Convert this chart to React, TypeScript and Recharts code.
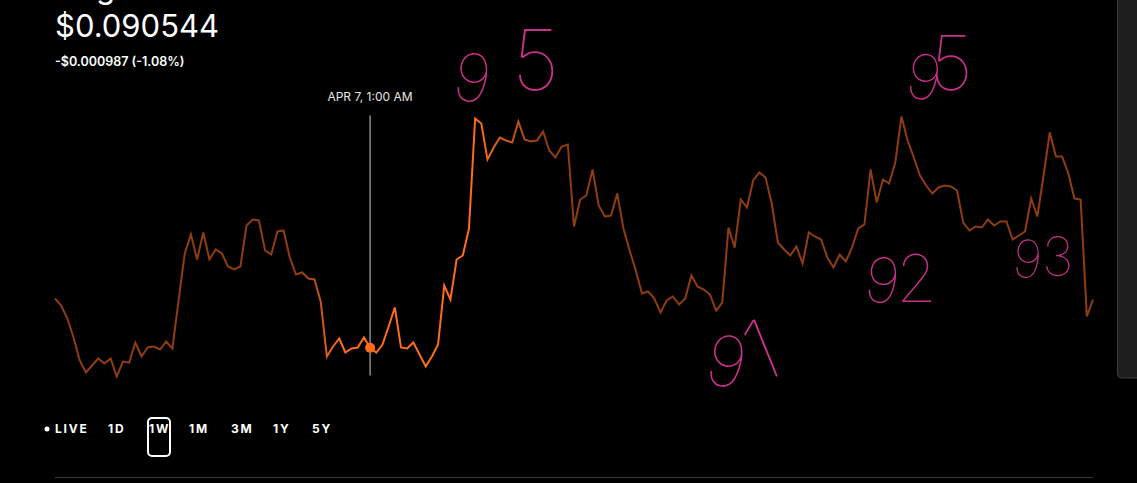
import React from "react";
import { LineChart, Line, XAxis, YAxis, ReferenceLine, ReferenceDot } from "recharts";

const TITLE = "Dogecoin";
const PRICE_LABEL = "$0.090544";
const CHANGE_LABEL = "-$0.000987 (-1.08%)";
const HOVER_LABEL = "APR 7, 1:00 AM";
const HOVER_INDEX = 51;
const HOVER_PRICE = 0.090544;
const RANGES = ["LIVE", "1D", "1W", "1M", "3M", "1Y", "5Y"];
const ACTIVE_RANGE = "1W";

// hourly prices over one week (169 points)
const PRICES = [
  0.09153, 0.09139, 0.09113, 0.09075, 0.09029, 0.09005, 0.09019, 0.09033, 0.09023, 0.09033,
  0.08997, 0.09027, 0.09025, 0.09065, 0.09037, 0.09055, 0.09057, 0.09051, 0.09067, 0.09053,
  0.09149, 0.09243, 0.09281, 0.09231, 0.09285, 0.09231, 0.09251, 0.09243, 0.09217, 0.09211,
  0.09217, 0.09299, 0.09311, 0.09309, 0.09249, 0.09241, 0.09287, 0.09289, 0.09235, 0.09201,
  0.09205, 0.09193, 0.09191, 0.09147, 0.09037, 0.09057, 0.09073, 0.09045, 0.09053, 0.09055,
  0.09075, 0.090544, 0.09045, 0.09061, 0.09097, 0.09135, 0.09055, 0.09053, 0.09065, 0.09041,
  0.09017, 0.09037, 0.09061, 0.09179, 0.09151, 0.09231, 0.09239, 0.09293, 0.09513, 0.09503,
  0.09431, 0.09455, 0.09475, 0.09469, 0.09465, 0.09507, 0.09471, 0.09467, 0.09469, 0.09487,
  0.09449, 0.09435, 0.09457, 0.09461, 0.09297, 0.09351, 0.09359, 0.09411, 0.09339, 0.09317,
  0.09319, 0.09363, 0.09293, 0.09249, 0.09209, 0.09163, 0.09167, 0.09153, 0.09125, 0.09149,
  0.09157, 0.09141, 0.09153, 0.09199, 0.09177, 0.09171, 0.09161, 0.09129, 0.09145, 0.09295,
  0.09255, 0.09351, 0.09335, 0.09389, 0.09405, 0.09395, 0.09343, 0.09265, 0.09251, 0.09239,
  0.09257, 0.09223, 0.09285, 0.09277, 0.09271, 0.09235, 0.09215, 0.09241, 0.09227, 0.09255,
  0.09293, 0.09301, 0.09411, 0.09345, 0.09391, 0.09383, 0.09425, 0.09517, 0.09469, 0.09435,
  0.09399, 0.09379, 0.09363, 0.09375, 0.09379, 0.09377, 0.09369, 0.09305, 0.09289, 0.09297,
  0.09295, 0.09311, 0.09299, 0.09307, 0.09307, 0.09271, 0.09279, 0.09287, 0.09353, 0.09317,
  0.09399, 0.09485, 0.09437, 0.09437, 0.09403, 0.09353, 0.09351, 0.09117, 0.09151,
];

// hand-written notes on the screenshot
const NOTES = ["9", "5", "9", "5", "9", "1", "9", "2", "9", "3"];

const data = PRICES.map((price, i) => ({ i, price }));

const RANGE_X = [55, 108, 149, 189, 231, 273, 312];
const NOTE_POS = [
  { x: 450, y: 98, s: 66, r: 10 },
  { x: 512, y: 90, s: 84, r: 0 },
  { x: 903, y: 96, s: 62, r: 10 },
  { x: 930, y: 90, s: 76, r: 0 },
  { x: 702, y: 382, s: 70, r: 12 },
  { x: 758, y: 384, s: 84, r: -22 },
  { x: 862, y: 300, s: 62, r: 8 },
  { x: 896, y: 302, s: 66, r: 0 },
  { x: 1011, y: 276, s: 52, r: 6 },
  { x: 1042, y: 276, s: 54, r: 0 },
];

const DIM = "#8f3c12";
const BRIGHT = "#ff6b1c";
const PINK = "#c8308a";

export default function App() {
  return (
    <div
      style={{
        position: "fixed",
        left: 0,
        top: 0,
        width: 1137,
        height: 483,
        background: "#000",
        overflow: "hidden",
        fontFamily: "Inter, 'Noto Sans', sans-serif",
      }}
    >
      <div style={{ position: "absolute", left: 0, top: 0 }}>
        <LineChart width={1137} height={400} data={data} margin={{ top: 85, right: 44, bottom: 15, left: 55 }}>
          <defs>
            <linearGradient id="hl" gradientUnits="userSpaceOnUse" x1="0" y1="0" x2="1137" y2="0">
              <stop offset={300 / 1137} stopColor={DIM} />
              <stop offset={340 / 1137} stopColor={BRIGHT} />
              <stop offset={478 / 1137} stopColor={BRIGHT} />
              <stop offset={545 / 1137} stopColor={DIM} />
            </linearGradient>
          </defs>
          <XAxis dataKey="i" type="number" domain={[0, PRICES.length - 1]} hide />
          <YAxis type="number" domain={[0.0898, 0.0958]} hide allowDataOverflow />
          <ReferenceLine
            segment={[
              { x: HOVER_INDEX, y: 0.08999 },
              { x: HOVER_INDEX, y: 0.09519 },
            ]}
            stroke="#8a8a8a"
            strokeWidth={1.5}
          />
          <Line
            type="linear"
            dataKey="price"
            stroke="url(#hl)"
            strokeWidth={2}
            dot={false}
            isAnimationActive={false}
          />
          <ReferenceDot x={HOVER_INDEX} y={HOVER_PRICE} r={5} fill={BRIGHT} stroke="none" />
        </LineChart>
      </div>
      <svg
        width={1137}
        height={483}
        style={{ position: "absolute", left: 0, top: 0, pointerEvents: "none" }}
        fontFamily="Inter, 'Noto Sans', sans-serif"
      >
        <text x={55} y={-2} fontSize={31} fill="#fff">{TITLE}</text>
        <text x={55} y={37} fontSize={31} fill="#fff">{PRICE_LABEL}</text>
        <text x={55} y={66} fontSize={12.5} fontWeight={600} fill="#fff">{CHANGE_LABEL}</text>
        <text x={370} y={101} fontSize={12} textAnchor="middle" fill="#e6e6e6">{HOVER_LABEL}</text>

        {NOTES.map((n, k) => (
          <text
            key={k}
            x={NOTE_POS[k].x}
            y={NOTE_POS[k].y}
            fontSize={NOTE_POS[k].s}
            fontFamily="Inter, sans-serif"
            fontWeight={100}
            fill={PINK}
            transform={`rotate(${NOTE_POS[k].r} ${NOTE_POS[k].x} ${NOTE_POS[k].y})`}
          >
            {n}
          </text>
        ))}

        <circle cx={47} cy={429} r={2.5} fill="#fff" />
        {RANGES.map((r, k) => (
          <text key={r} x={RANGE_X[k]} y={433} fontSize={12} fontWeight={700} letterSpacing={1.8} fill="#fff">
            {r}
          </text>
        ))}
        <rect
          x={148}
          y={418}
          width={22}
          height={38}
          rx={4}
          fill="none"
          stroke="#fff"
          strokeWidth={2}
          opacity={RANGES.includes(ACTIVE_RANGE) ? 1 : 0}
        />
        <line x1={55} y1={477.5} x2={1093} y2={477.5} stroke="#3a3a3a" strokeWidth={1} />
        <rect x={1117.5} y={-6} width={30} height={384} rx={4} fill="#1e1e1e" stroke="#3e3e3e" />
      </svg>
    </div>
  );
}
